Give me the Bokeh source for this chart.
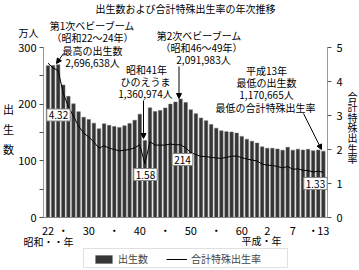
from bokeh.plotting import figure
from bokeh.models import (Range1d, LinearAxis, FixedTicker, Label, Arrow, NormalHead,
                          Legend, LegendItem, BoxAnnotation)
from bokeh.embed import file_html
from bokeh.resources import INLINE

# ---------------- data ----------------
years = list(range(1947, 2002))  # 昭和22年 ... 平成13年
births = [2678792, 2681624, 2696638, 2337507, 2137689, 2005162, 1868040, 1769580,
          1730692, 1665278, 1566713, 1653469, 1626088, 1606041, 1589372, 1618616,
          1659521, 1716761, 1823697, 1360974, 1935647, 1871839, 1889815, 1934239,
          2000973, 2038682, 2091983, 2029989, 1901440, 1832617, 1755100, 1708643,
          1642580, 1576889, 1529455, 1515392, 1508687, 1489780, 1431577, 1382946,
          1346658, 1314006, 1246802, 1221585, 1223245, 1208989, 1188282, 1238328,
          1187064, 1206555, 1191665, 1203147, 1177669, 1190547, 1170665]
tfr = [4.54, 4.40, 4.32, 3.65, 3.26, 2.98, 2.69, 2.48, 2.37, 2.22, 2.04, 2.11,
       2.04, 2.00, 1.96, 1.98, 2.00, 2.05, 2.14, 1.58, 2.23, 2.13, 2.13, 2.13,
       2.16, 2.14, 2.14, 2.05, 1.91, 1.85, 1.80, 1.79, 1.77, 1.75, 1.74, 1.77,
       1.80, 1.81, 1.76, 1.72, 1.69, 1.66, 1.57, 1.54, 1.53, 1.50, 1.46, 1.50,
       1.42, 1.43, 1.39, 1.38, 1.34, 1.36, 1.33]
births_man = [b / 10000 for b in births]

x_tick_years = [1947, 1950, 1955, 1960, 1965, 1970, 1975, 1980, 1985, 1990, 1995, 1999, 2001]
x_tick_labels = ["22", "・", "30", "・", "40", "・", "50", "・", "60", "2", "7", "・", "13"]
left_ticks = [0, 100, 200, 300]
left_minor = [50, 150, 250]
right_ticks = [0, 1, 2, 3, 4, 5]

FONT = "Noto Sans CJK JP"
W, H = 359, 270

# plot-area geometry in pixels (the frame itself covers the whole canvas)
FL, FR, FT, FB = 43, 327, 47, 217
X0, X1 = 1946.12, 2001.81     # years at FL / FR
Y1, T1 = 300, 5               # births (万人) / TFR at FT


def dx(px):
    return X0 + (px - FL) * (X1 - X0) / (FR - FL)


def dy(py):
    return (FB - py) * Y1 / (FB - FT)


def ty(py):
    return (FB - py) * T1 / (FB - FT)


p = figure(width=W, height=H, output_backend="svg", toolbar_location=None,
           x_range=Range1d(dx(0), dx(W)), y_range=Range1d(dy(H), dy(0)),
           min_border=0, min_border_left=0, min_border_right=0,
           min_border_top=0, min_border_bottom=0)
p.extra_y_ranges = {"tfr": Range1d(ty(H), ty(0))}
p.outline_line_color = None
p.xgrid.visible = False
p.ygrid.visible = False
p.background_fill_color = "white"
p.border_fill_color = "white"

bars = p.vbar(x=years, top=births_man, width=0.68, fill_color="#353535",
              line_color="#6a6a6a", line_width=0.5)
ln = p.line(x=years, y=tfr, y_range_name="tfr", line_color="black", line_width=1)

# axes (fixed inside the canvas-wide frame)
xa = p.xaxis[0]
xa.fixed_location = 0
xa.bounds = (dx(FL), dx(FR))
xa.ticker = FixedTicker(ticks=x_tick_years, minor_ticks=[])
xa.major_label_overrides = {y: t for y, t in zip(x_tick_years, x_tick_labels)}
xa.major_tick_line_color = None
xa.minor_tick_line_color = None
xa.major_tick_in = 0
xa.major_tick_out = 0
xa.minor_tick_in = 0
xa.minor_tick_out = 0
xa.axis_line_color = "#888888"
xa.major_label_text_font = FONT
xa.major_label_text_font_size = "11px"
xa.major_label_text_color = "black"
xa.major_label_standoff = 4

ya = p.yaxis[0]
ya.fixed_location = dx(FL)
ya.bounds = (0, Y1)
ya.ticker = FixedTicker(ticks=left_ticks, minor_ticks=left_minor)
ya.axis_line_color = "#999999"
ya.major_tick_line_color = "#555555"
ya.minor_tick_line_color = "#555555"
ya.major_tick_in = 0
ya.major_tick_out = 4
ya.minor_tick_in = 0
ya.minor_tick_out = 4
ya.major_label_text_font = FONT
ya.major_label_text_font_size = "11px"
ya.major_label_text_color = "black"
ya.major_label_standoff = 3

ra = LinearAxis(y_range_name="tfr", ticker=FixedTicker(ticks=right_ticks, minor_ticks=[]))
ra.fixed_location = dx(FR)
ra.bounds = (0, T1)
ra.axis_line_color = "#999999"
ra.major_tick_line_color = "#555555"
ra.major_tick_in = 0
ra.major_tick_out = 4
ra.major_label_text_font = FONT
ra.major_label_text_font_size = "11px"
ra.major_label_text_color = "black"
ra.major_label_standoff = 5
p.add_layout(ra, "right")


def lab(px, py, text, size="10px", box=False):
    kw = dict(x=dx(px), y=dy(py), text=text, text_align="center", text_baseline="middle",
              text_font=FONT, text_font_size=size, text_color="black")
    if box:
        kw.update(background_fill_color="white", border_line_color="#888888",
                  border_line_width=1, padding=2)
    p.add_layout(Label(**kw))


def arrow(px0, py0, px1, py1):
    p.add_layout(Arrow(end=NormalHead(size=5, fill_color="black", line_color="black"),
                       x_start=dx(px0), y_start=dy(py0), x_end=dx(px1), y_end=dy(py1),
                       line_color="black", line_width=1))


# title and side labels
lab(185, 8, "出生数および合計特殊出生率の年次推移")
lab(28, 32, "万人")
for i, ch in enumerate("出生数"):
    lab(8, 108 + 20 * i, ch, size="11px")
for i, ch in enumerate("合計特殊出生率"):
    lab(352, 96 + 10.3 * i, ch)
lab(48, 241, "昭和・・年")
lab(261, 240, "平成・年")

# annotations
lab(92, 25, "第1次ベビーブーム")
lab(92, 37, "（昭和22～24年）")
lab(92, 50, "最高の出生数")
lab(92, 62, "2,696,638人")
arrow(63, 53, 56, 63)

lab(199, 35, "第2次ベビーブーム")
lab(201, 47, "（昭和46～49年）")
lab(203, 59, "2,091,983人")
arrow(178.5, 66, 178.5, 98)

lab(146, 69, "昭和41年")
lab(145, 81, "ひのえうま")
lab(145, 93, "1,360,974人")
arrow(143, 100, 143, 138)

lab(266, 70, "平成13年")
lab(266, 82, "最低の出生数")
lab(266, 94, "1,170,665人")
lab(265, 107, "最低の合計特殊出生率")
arrow(303, 113, 321, 149)

lab(58, 114.5, "4.32", box=True)
lab(145, 174, "1.58", box=True)
lab(182, 159, "214", box=True)
lab(315, 183, "1.33", box=True)

# legend
p.add_layout(BoxAnnotation(left=dx(83), right=dx(287), top=dy(248), bottom=dy(267),
                           fill_color="white", fill_alpha=1, line_color="#999999",
                           line_width=1, level="overlay"))
lg = Legend(items=[LegendItem(label="出生数", renderers=[bars]),
                   LegendItem(label="合計特殊出生率", renderers=[ln])],
            orientation="horizontal", location=(97 - 4, H - 267 + 1), level="overlay")
lg.margin = 0
lg.padding = 4
lg.spacing = 18
lg.label_standoff = 4
lg.glyph_width = 21
lg.glyph_height = 10
lg.label_height = 10
lg.label_text_font = FONT
lg.label_text_font_size = "10px"
lg.border_line_color = None
lg.background_fill_alpha = 0
p.add_layout(lg)

open("out.html", "w").write(file_html(p, INLINE))
